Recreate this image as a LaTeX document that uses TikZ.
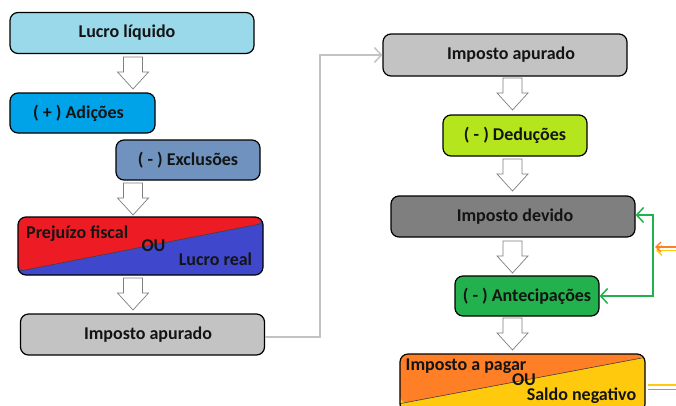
\documentclass[tikz,border=0pt]{standalone}
\usepackage{fontspec}
\setmainfont{Carlito}
\usetikzlibrary{arrows.meta,calc}
\definecolor{cLL}{HTML}{99D9EA}
\definecolor{cAD}{HTML}{00A2E8}
\definecolor{cEX}{HTML}{7092BE}
\definecolor{cRED}{HTML}{ED1C24}
\definecolor{cBLU}{HTML}{3F48CC}
\definecolor{cGRY}{HTML}{C3C3C3}
\definecolor{cDED}{HTML}{B5E61D}
\definecolor{cDEV}{HTML}{7F7F7F}
\definecolor{cGRN}{HTML}{22B14C}
\definecolor{cORA}{HTML}{FF7F27}
\definecolor{cYEL}{HTML}{FFC90E}
\definecolor{cTXT}{HTML}{141414}
\begin{document}
\begin{tikzpicture}[x=1pt,y=-1pt,
  box/.style={draw=black, line width=1.2pt, rounded corners=8pt, inner sep=0pt,
    font=\bfseries\fontsize{18}{20}\selectfont, text=cTXT},
  wide/.style={box, minimum width=244pt, minimum height=41pt},
  small/.style={box, minimum width=144pt, minimum height=40pt},
  lbl/.style={font=\bfseries\fontsize{18}{20}\selectfont, text=cTXT, inner sep=0pt},
  arrowshape/.style={draw=cDEV, line width=0.7pt, fill=white},
  barrow/.pic={\draw[arrowshape] (-9.5,0) -- (9.5,0) -- (9.5,15) -- (15.5,15) -- (0,32) -- (-15.5,15) -- (-9.5,15) -- cycle;},
  grayconn/.style={draw=cGRY, line width=1.5pt, -{Straight Barb[length=7pt,width=15pt]}},
  greenconn/.style={draw=cGRN, line width=1.5pt, {Straight Barb[length=7pt,width=15pt]}-{Straight Barb[length=7pt,width=15pt]}},
  sideconn/.style={line width=1.3pt, -{Straight Barb[length=5pt,width=10pt]}},
  stub/.style={line width=1.5pt}
]
\useasboundingbox (0,0) rectangle (676,405);
\clip (0,0) rectangle (676,405);
\fill[white] (0,0) rectangle (676,405);

% left column
\node[wide, fill=cLL] (ll) at (132,33) {Lucro líquido\hspace*{10pt}};
\pic at (133,57) {barrow};
\node[small, minimum width=145pt, fill=cAD] (ad) at (82.5,113) {( + ) Adições\hspace*{8pt}};
\node[small, fill=cEX] (ex) at (188,160) {( - ) Exclusões};
\pic at (133,183) {barrow};
\node[box, minimum width=245pt, minimum height=58pt, fill=cBLU,
  path picture={
    \fill[cRED] (path picture bounding box.north west) -- (path picture bounding box.north east)
      -- ($(path picture bounding box.north east)+(0,6.4)$)
      -- ($(path picture bounding box.south west)+(0,-3.6)$) -- cycle;
    \draw[black!75, line width=0.6pt] ($(path picture bounding box.north east)+(0,6.4)$)
      -- ($(path picture bounding box.south west)+(0,-3.6)$);
  }] (pf) at (140.5,246) {};
\node[lbl, anchor=west] (pft) at (26,233.5) {Prejuízo fiscal};
\node[lbl] (pfou) at (153.5,246) {OU};
\node[lbl] (pflr) at (215.5,259.5) {Lucro real};
\pic at (133,278) {barrow};
\node[wide, fill=cGRY] (ap1) at (142.5,334.5) {\hspace*{11pt}Imposto apurado};

% right column
\node[wide, minimum height=42pt, fill=cGRY] (ap2) at (505,55) {\hspace*{12pt}Imposto apurado};
\pic at (512.5,78) {barrow};
\node[small, minimum height=41pt, fill=cDED] (de) at (515,135.5) {( - ) Deduções};
\pic at (512.5,159) {barrow};
\node[wide, fill=cDEV] (dev) at (513,216.5) {\hspace*{4pt}Imposto devido};
\pic at (512.5,241) {barrow};
\node[small, fill=cGRN] (ant) at (527,296) {( - ) Antecipações};
\pic at (512.5,318) {barrow};
\node[box, minimum width=245pt, minimum height=58pt, fill=cYEL,
  path picture={
    \fill[cORA] (path picture bounding box.north west) -- (path picture bounding box.north east)
      -- ($(path picture bounding box.north east)+(0,3.4)$)
      -- ($(path picture bounding box.south west)+(0,-8.4)$) -- cycle;
    \draw[black!75, line width=0.6pt] ($(path picture bounding box.north east)+(0,3.4)$)
      -- ($(path picture bounding box.south west)+(0,-8.4)$);
  }] (pg) at (522.5,383) {};
\node[lbl] (pgt) at (466,366) {Imposto a pagar};
\node[lbl] (pgou) at (524,380) {OU};
\node[lbl] (pgsn) at (581.5,395.5) {Saldo negativo};

% connectors
\coordinate (k1) at (320,337);
\draw[grayconn] (ap1.east |- k1) -- (k1) |- (ap2.west);
\coordinate (g1) at (653,215);
\coordinate (g2) at (653,296);
\draw[greenconn] (dev.east |- g1) -- (g1) -- (g2) -- (ant.east);
\coordinate (y1) at (678,250.5);
\coordinate (y2) at (656,250.5);
\coordinate (o1) at (678,247);
\coordinate (o2) at (655,247);
\draw[sideconn, cYEL] (y1) -- (y2);
\draw[sideconn, cORA] (o1) -- (o2);
\coordinate (b1) at (648,385);
\coordinate (b2) at (678,385);
\coordinate (b3) at (648,389.5);
\coordinate (b4) at (678,389.5);
\draw[stub, cYEL] (b1) -- (b2);
\draw[stub, cORA] (b3) -- (b4);
\end{tikzpicture}
\end{document}
